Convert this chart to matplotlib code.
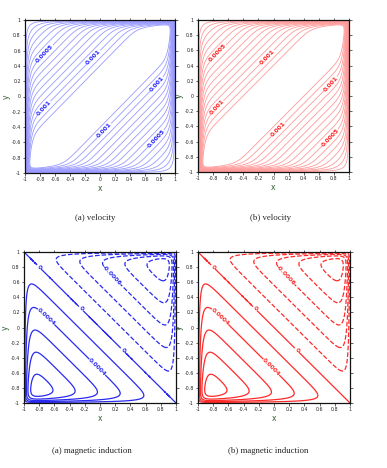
import numpy as np
import matplotlib
matplotlib.use("Agg")
import matplotlib.pyplot as plt

# ---- data ----
ticks = [-1, -0.8, -0.6, -0.4, -0.2, 0, 0.2, 0.4, 0.6, 0.8, 1]
tick_labels = ["-1", "-0.8", "-0.6", "-0.4", "-0.2", "0", "0.2", "0.4", "0.6", "0.8", "1"]

k_amp = 0.000714        # value change per unit of (x-y) or (x+y)
vel_layer = 0.035       # velocity wall-layer thickness
mag_layer = 0.05        # induction wall-layer thickness

vel_levels = [0.0000714, 0.000143, 0.000214, 0.000286, 0.000357, 0.000429,
              0.0005, 0.000571, 0.000643, 0.000714, 0.000786, 0.000857,
              0.000929, 0.001, 0.00107, 0.00114]
vel_label_levels = [0.0005, 0.001]
vel_label_text = ["0.0005", "0.001"]
vel_label_pos = [(-0.73, 0.56), (-0.09, 0.52), (-0.76, -0.14),
                 (0.75, 0.17), (0.08, -0.46), (0.73, -0.53)]

mag_levels = [-0.001, -0.0008, -0.0006, -0.0004, -0.0002, 0.0,
              0.0002, 0.0004, 0.0006, 0.0008, 0.001]
mag_label_levels = [-0.0006, 0.0, 0.0004]
mag_label_text = ["-0.0006", "0", "0.0004"]
mag_label_pos = [(-0.80, 0.80), (-0.25, 0.25), (0.30, -0.30),
                 (-0.70, 0.15), (-0.02, -0.51), (0.16, 0.69)]

captions = ["(a) velocity", "(b) velocity",
            "(a) magnetic induction", "(b) magnetic induction"]
line_colors = {"vel_blue": "#9a9aff", "vel_red": "#ff9a9a",
               "mag_blue": "#2a2af0", "mag_red": "#ff2a2a"}
label_colors = {"blue": "#2020ff", "red": "#ff1a1a"}

# ---- fields ----
g = np.linspace(-1, 1, 501)
X, Y = np.meshgrid(g, g)


def wall(t, d):
    return 1 - 0.985 * np.exp(-(1 - np.abs(t)) / d)


U = k_amp * (2 - np.abs(X - Y)) * wall(X, vel_layer) * wall(Y, vel_layer)
B = -k_amp * (X + Y) * wall(X, mag_layer) * wall(Y, mag_layer)

W, H = 387, 468
fig = plt.figure(figsize=(W / 100, H / 100), dpi=100)


def px_axes(x0, x1, y0, y1):
    return fig.add_axes([x0 / W, 1 - y1 / H, (x1 - x0) / W, (y1 - y0) / H])


def style(ax):
    ax.set_xlim(-1, 1)
    ax.set_ylim(-1, 1)
    ax.set_xticks(ticks)
    ax.set_yticks(ticks)
    ax.set_xticklabels(tick_labels)
    ax.set_yticklabels(tick_labels)
    ax.tick_params(labelsize=3.4, length=1.8, width=0.5, pad=1.2,
                   top=True, right=True, direction="out", colors="#222222")
    for s in ax.spines.values():
        s.set_linewidth(0.9)
        s.set_color("#111111")
    ax.set_xlabel("x", fontsize=5.5, color="#2f5f2f", labelpad=1.5)
    ax.set_ylabel("y", fontsize=5.5, color="#2f5f2f", rotation=90)
    ax.yaxis.set_label_coords(-0.095, 0.5)


def make_fmt(levels, texts):
    def f(v):
        i = int(np.argmin([abs(v - l) for l in levels]))
        return texts[i]
    return f


axes_px = [(25, 175, 20, 173), (198, 349, 20, 172),
           (24, 176, 252, 403), (198, 350, 252, 403)]

# velocity plots
for i, (lc, tc) in enumerate([("vel_blue", "blue"), ("vel_red", "red")]):
    ax = px_axes(*axes_px[i])
    cs = ax.contour(X, Y, U, levels=vel_levels, colors=line_colors[lc],
                    linewidths=0.6)
    lab = ax.clabel(cs, manual=vel_label_pos,
                    fmt=make_fmt(vel_label_levels, vel_label_text),
                    fontsize=4.3, inline=True, inline_spacing=1,
                    colors=label_colors[tc])
    for t in lab:
        t.set_fontweight("bold")
    style(ax)

# magnetic induction plots
for i, (lc, tc) in enumerate([("mag_blue", "blue"), ("mag_red", "red")]):
    ax = px_axes(*axes_px[2 + i])
    cs = ax.contour(X, Y, B, levels=mag_levels, colors=line_colors[lc],
                    linewidths=0.9,
                    linestyles=["--" if l < 0 else "-" for l in mag_levels])
    lab = ax.clabel(cs, manual=mag_label_pos,
                    fmt=make_fmt(mag_label_levels, mag_label_text),
                    fontsize=4.3, inline=True, inline_spacing=1,
                    colors=line_colors[lc])
    for t in lab:
        t.set_fontweight("bold")
    style(ax)

cap_pos = [(95, 218), (271, 218), (92, 451), (268, 451)]
for txt, (cx, cy) in zip(captions, cap_pos):
    fig.text(cx / W, 1 - cy / H, txt, ha="center", va="center",
             fontsize=6.3, family="Liberation Serif", color="#222222")

fig.savefig("out.png", dpi=100)
